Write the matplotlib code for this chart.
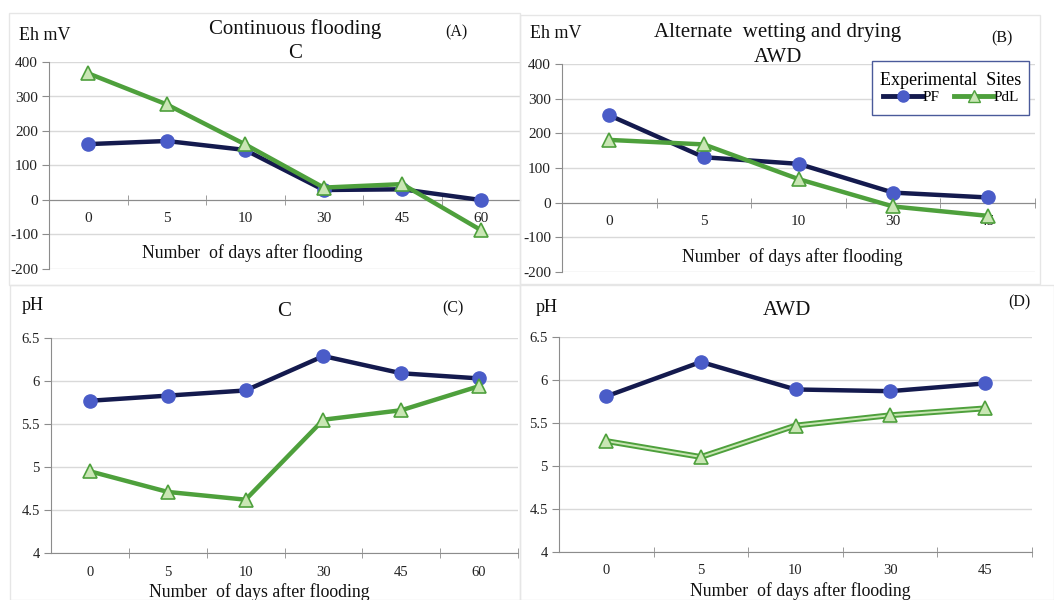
import matplotlib.pyplot as plt
from matplotlib.patches import Rectangle
from matplotlib.lines import Line2D
from matplotlib.ticker import FuncFormatter

plt.rcParams["font.family"] = ["Liberation Serif", "DejaVu Serif"]
plt.rcParams["axes.unicode_minus"] = False

days_c = ["0", "5", "10", "30", "45", "60"]
days_awd = ["0", "5", "10", "30", "45"]

eh_c_pf = [162, 171, 145, 29, 31, 0]
eh_c_pdl = [367, 277, 161, 36, 46, -87]
eh_awd_pf = [252, 131, 112, 29, 15]
eh_awd_pdl = [181, 168, 68, -11, -38]

ph_c_pf = [5.77, 5.83, 5.89, 6.29, 6.09, 6.03]
ph_c_pdl = [4.95, 4.71, 4.62, 5.55, 5.66, 5.94]
ph_awd_pf = [5.81, 6.21, 5.89, 5.87, 5.96]
ph_awd_pdl = [5.29, 5.105, 5.47, 5.59, 5.67]

W, H = 1054, 600
NAVY = "#141a4e"
DOT = "#4a5cc8"
GREEN = "#4ea03c"
LIGHT = "#c9e6b4"
GRID = "#d9d9d9"
AX = "#8c8c8c"

fig = plt.figure(figsize=(W / 100, H / 100), dpi=100)


def box(x0, y0, x1, y1):
    return [x0 / W, 1 - y1 / H, (x1 - x0) / W, (y1 - y0) / H]


def ftext(x, y, s, size=12, ha="center"):
    fig.text(x / W, 1 - y / H, s, fontsize=size, ha=ha, va="center", color="#111111")


def panel(rect, cats, pf, pdl, ylim, yticks, xmax, cross, tsize, double=False):
    ax = fig.add_axes(box(*rect))
    x = list(range(len(cats)))
    ax.set_xlim(-0.5, xmax)
    ax.set_ylim(*ylim)
    ax.set_yticks(yticks)
    ax.yaxis.set_major_formatter(FuncFormatter(lambda v, p: f"{v:g}"))
    ax.grid(axis="y", color=GRID, lw=1)
    ax.set_axisbelow(True)
    for s in ["top", "right"]:
        ax.spines[s].set_visible(False)
    ax.spines["left"].set_color(AX)
    ax.spines["bottom"].set_color(AX)
    ax.spines["bottom"].set_position(("data", cross))
    ax.set_xticks(x)
    ax.set_xticklabels(cats)
    ax.set_xticks([i + 0.5 for i in range(len(cats))], minor=True)
    ax.tick_params(axis="x", which="major", length=0, pad=9, labelsize=tsize, labelcolor="#222222")
    ax.tick_params(axis="x", which="minor", length=7, direction="inout", color=AX)
    ax.tick_params(axis="y", length=5, color=AX, labelsize=tsize, labelcolor="#222222", pad=3)
    ax.plot(x, pf, color=NAVY, lw=3.2, marker="o", ms=9.5, mfc=DOT, mec=DOT, clip_on=False, zorder=3)
    if double:
        ax.plot(x, pdl, color=GREEN, lw=4.2, zorder=4)
        ax.plot(x, pdl, color=LIGHT, lw=1.4, zorder=4)
        ax.plot(x, pdl, ls="none", marker="^", ms=10, mfc=LIGHT, mec=GREEN, mew=1.2, zorder=5)
    else:
        ax.plot(x, pdl, color=GREEN, lw=3.2, marker="^", ms=10, mfc=LIGHT, mec=GREEN,
                mew=1.2, clip_on=False, zorder=4)
    return ax


# faint panel frames
for r in [(9, 13, 520, 285), (520, 15, 1040, 284), (10, 285, 520, 600), (520, 285, 1054, 600)]:
    fig.patches.append(Rectangle((r[0] / W, 1 - r[3] / H), (r[2] - r[0]) / W, (r[3] - r[1]) / H,
                                 transform=fig.transFigure, fill=False, ec="#e6e6e6", lw=1))

eh_ticks = [-200, -100, 0, 100, 200, 300, 400]
ph_ticks = [4, 4.5, 5, 5.5, 6, 6.5]

panel((49, 62, 520, 269), days_c, eh_c_pf, eh_c_pdl, (-200, 400), eh_ticks,
      -0.5 + (520 - 49) / 80.6, 0, 11)
panel((562, 64, 1035, 272), days_awd, eh_awd_pf, eh_awd_pdl, (-200, 400), eh_ticks,
      4.5, 0, 11)
panel((51, 338, 518, 553), days_c, ph_c_pf, ph_c_pdl, (4, 6.5), ph_ticks,
      -0.5 + (518 - 51) / 80.9, 4, 10.5)
panel((559, 337, 1032, 552), days_awd, ph_awd_pf, ph_awd_pdl, (4, 6.5), ph_ticks,
      4.5, 4, 10.5, double=True)

# panel texts
ftext(19, 35, "Eh mV", 13, ha="left")
ftext(295, 29, "Continuous flooding", 15)
ftext(295, 53, "C", 15)
ftext(456, 32, "(A)", 11.5)
ftext(252, 253, "Number  of days after flooding", 12.8)

ftext(530, 33, "Eh mV", 13, ha="left")
ftext(778, 33, "Alternate  wetting and drying", 15)
ftext(778, 58, "AWD", 15)
ftext(1002, 38, "(B)", 11.5)
ftext(792, 257, "Number  of days after flooding", 12.8)

ftext(22, 305, "pH", 13, ha="left")
ftext(284, 311, "C", 15)
ftext(453, 308, "(C)", 11.5)
ftext(259, 592, "Number  of days after flooding", 12.8)

ftext(536, 308, "pH", 13, ha="left")
ftext(787, 310, "AWD", 15)
ftext(1019, 302, "(D)", 11.5)
ftext(800, 591, "Number  of days after flooding", 12.8)

# legend
fig.patches.append(Rectangle((872 / W, 1 - 115 / H), (1029 - 872) / W, (115 - 61) / H,
                             transform=fig.transFigure, fill=True, fc="white",
                             ec="#4a5a9a", lw=1, zorder=10))
handles = [
    Line2D([], [], color=NAVY, lw=3.5, marker="o", ms=8, mfc=DOT, mec=DOT),
    Line2D([], [], color=GREEN, lw=3.5, marker="^", ms=8, mfc=LIGHT, mec=GREEN),
]
leg = fig.legend(handles, ["PF", "PdL"], title="Experimental  Sites", ncol=2,
                 loc="upper center", bbox_to_anchor=(951 / W, 1 - 63 / H),
                 frameon=False, fontsize=11, title_fontsize=13, handlelength=2.6,
                 handletextpad=0.0, columnspacing=0.9, borderpad=0.1, labelspacing=0.1)
leg.set_zorder(11)

fig.savefig("out.png", dpi=100)
